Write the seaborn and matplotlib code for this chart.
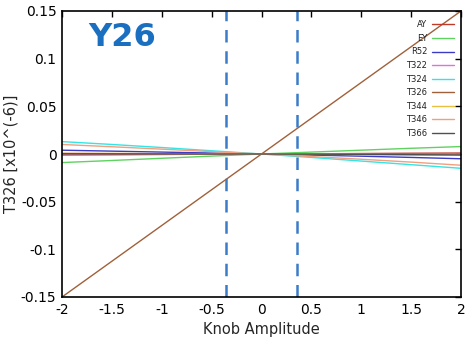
import numpy as np
import pandas as pd
import matplotlib
matplotlib.use("Agg")
import matplotlib.pyplot as plt
import seaborn as sns
from matplotlib.lines import Line2D

# Knob scan amplitudes and response of each knob
knob = [-2.0, -1.5, -1.0, -0.5, 0.0, 0.5, 1.0, 1.5, 2.0]
AY   = [-0.0010, -0.0008, -0.0005, -0.0002, 0.0, 0.0002, 0.0005, 0.0008, 0.0010]
EY   = [-0.0090, -0.0068, -0.0045, -0.0022, 0.0, 0.0020, 0.0040, 0.0060, 0.0078]
R52  = [0.0040, 0.0030, 0.0020, 0.0010, 0.0, -0.0011, -0.0023, -0.0036, -0.0050]
T322 = [0.0005, 0.0004, 0.0002, 0.0001, 0.0, -0.0001, -0.0002, -0.0004, -0.0005]
T324 = [0.0130, 0.0100, 0.0068, 0.0034, 0.0, -0.0036, -0.0074, -0.0112, -0.0150]
T326 = [-0.150, -0.1125, -0.075, -0.0375, 0.0, 0.0375, 0.075, 0.1125, 0.150]
T344 = [0.0008, 0.0006, 0.0004, 0.0002, 0.0, -0.0003, -0.0006, -0.0009, -0.0012]
T346 = [0.0100, 0.0076, 0.0051, 0.0025, 0.0, -0.0027, -0.0055, -0.0085, -0.0118]
T366 = [0.0003, 0.0002, 0.0001, 0.0, 0.0, -0.0002, -0.0004, -0.0007, -0.0010]

names = ["AY", "EY", "R52", "T322", "T324", "T326", "T344", "T346", "T366"]
series = [AY, EY, R52, T322, T324, T326, T344, T346, T366]
colors = ["#c0392b", "#5fd35f", "#3b3bc8", "#e070e0", "#33e5e5",
          "#a0603a", "#e8c040", "#f0a080", "#505050"]
window = [-0.36, 0.36]

df = pd.concat([pd.DataFrame({"knob": knob, "value": v, "name": n})
                for n, v in zip(names, series)], ignore_index=True)

sns.set_style("white")
plt.rcParams["font.family"] = ["DejaVu Sans"]

fig = plt.figure(figsize=(4.66, 3.41), dpi=100)
ax = fig.add_axes([62 / 466, (341 - 297) / 341, 399 / 466, 286 / 341])

sns.lineplot(data=df, x="knob", y="value", hue="name", hue_order=names,
             palette=colors, linewidth=1.0, ax=ax, legend=False,
             estimator=None, sort=True)

for xv in window:
    ax.axvline(xv, color="#3a7cc8", linestyle=(0, (5, 3.5)), linewidth=1.8)

ax.set_xlim(-2, 2)
ax.set_ylim(-0.15, 0.15)
ax.set_xticks(np.arange(-2, 2.01, 0.5))
ax.set_xticklabels(["-2", "-1.5", "-1", "-0.5", "0", "0.5", "1", "1.5", "2"])
ax.set_yticks(np.arange(-0.15, 0.151, 0.05))
ax.set_yticklabels(["-0.15", "-0.1", "-0.05", "0", "0.05", "0.1", "0.15"])
ax.tick_params(direction="in", length=4, width=1, top=True, right=True,
               labelsize=10, colors="black", pad=4)
for s in ax.spines.values():
    s.set_color("black")
    s.set_linewidth(1.2)

ax.set_xlabel("Knob Amplitude", fontsize=10.5, labelpad=4)
ax.set_ylabel("T326 [x10^(-6)]", fontsize=10.5, labelpad=2)

handles = [Line2D([], [], color=c, linewidth=1.0) for c in colors]
leg = ax.legend(handles, names, loc="upper right", markerfirst=False,
                frameon=False, fontsize=6, handlelength=2.6,
                labelspacing=0.55, handletextpad=0.6,
                bbox_to_anchor=(0.995, 0.985), borderaxespad=0.2)
for t in leg.get_texts():
    t.set_color("#222222")

fig.text(88 / 466, 1 - 38 / 341, "Y26", fontsize=23, fontweight="bold",
         color="#1a6fc0", va="center", ha="left")

fig.savefig("out.png", dpi=100)
